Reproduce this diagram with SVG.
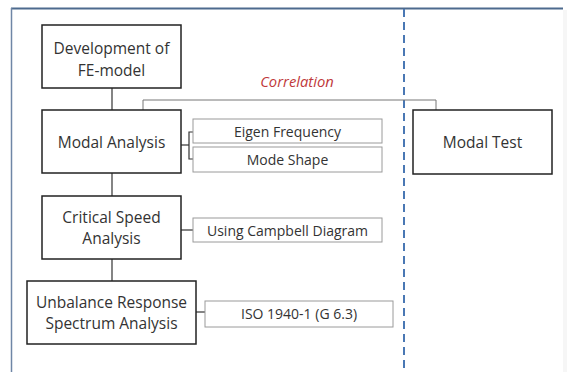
<svg xmlns="http://www.w3.org/2000/svg" width="567" height="372" viewBox="0 0 567 372">
<style>
.main{fill:#fff;stroke:#222;stroke-width:1.5}
.sub{fill:#fff;stroke:#9a9a9a;stroke-width:1}
.t{font-family:"Open Sans","Noto Sans",sans-serif;font-size:15.5px;fill:#333;text-anchor:middle}
.ts{font-family:"Open Sans","Noto Sans",sans-serif;font-size:14px;fill:#333;text-anchor:middle}
.conn{fill:none;stroke:#333;stroke-width:1.2}
.connl{fill:none;stroke:#777;stroke-width:1}
</style>
<rect x="0" y="0" width="567" height="372" fill="#fff"/>
<rect x="563" y="10" width="4" height="362" fill="#f6f6f6"/>
<g id="frame">
<line x1="11" y1="8.5" x2="563" y2="8.5" stroke="#4d6a8e" stroke-width="2"/>
<line x1="11.5" y1="8" x2="11.5" y2="372" stroke="#6f86a6" stroke-width="1.5"/>
<line x1="404" y1="9" x2="404" y2="372" stroke="#4a78b4" stroke-width="2" stroke-dasharray="8,5"/>
</g>
<g id="connectors">
<line class="conn" x1="112" y1="88" x2="112" y2="110"/>
<line class="conn" x1="112" y1="173" x2="112" y2="196"/>
<line class="conn" x1="112" y1="259" x2="112" y2="281"/>
<polyline class="connl" points="143,110 143,100 436,100 436,110"/>
<line class="conn" x1="181" y1="145" x2="189" y2="145"/>
<polyline class="conn" points="193,132 189,132 189,159 193,159"/>
<line class="conn" x1="181" y1="230" x2="193" y2="230"/>
<line class="conn" x1="196" y1="312" x2="205" y2="312"/>
</g>
<g id="correlation">
<text x="297" y="87" font-family="Open Sans, Noto Sans, sans-serif" font-size="14.8" font-style="italic" fill="#c0393b" text-anchor="middle">Correlation</text>
</g>
<g id="fe-model">
<rect class="main" x="42" y="25" width="139" height="63"/>
<text class="t" x="111.5" y="54">Development of</text>
<text class="t" x="111.5" y="76">FE-model</text>
</g>
<g id="modal-analysis">
<rect class="main" x="42" y="110" width="139" height="63"/>
<text class="t" x="111.5" y="148">Modal Analysis</text>
</g>
<g id="critical-speed">
<rect class="main" x="42" y="196" width="139" height="63"/>
<text class="t" x="111.5" y="223">Critical Speed</text>
<text class="t" x="111.5" y="244">Analysis</text>
</g>
<g id="unbalance">
<rect class="main" x="27" y="281" width="169" height="63"/>
<text class="t" x="111.5" y="308">Unbalance Response</text>
<text class="t" x="111.5" y="329">Spectrum Analysis</text>
</g>
<g id="modal-test">
<rect class="main" x="413" y="110" width="139" height="64"/>
<text class="t" x="482.5" y="148">Modal Test</text>
</g>
<g id="eigen">
<rect class="sub" x="193" y="119" width="189" height="24"/>
<text class="ts" x="287.5" y="137">Eigen Frequency</text>
</g>
<g id="mode-shape">
<rect class="sub" x="193" y="147" width="189" height="25"/>
<text class="ts" x="287.5" y="165">Mode Shape</text>
</g>
<g id="campbell">
<rect class="sub" x="193" y="218" width="189" height="24"/>
<text class="ts" x="287.5" y="236">Using Campbell Diagram</text>
</g>
<g id="iso">
<rect class="sub" x="205" y="301" width="188" height="26"/>
<text class="ts" x="299" y="319">ISO 1940-1 (G 6.3)</text>
</g>
</svg>
